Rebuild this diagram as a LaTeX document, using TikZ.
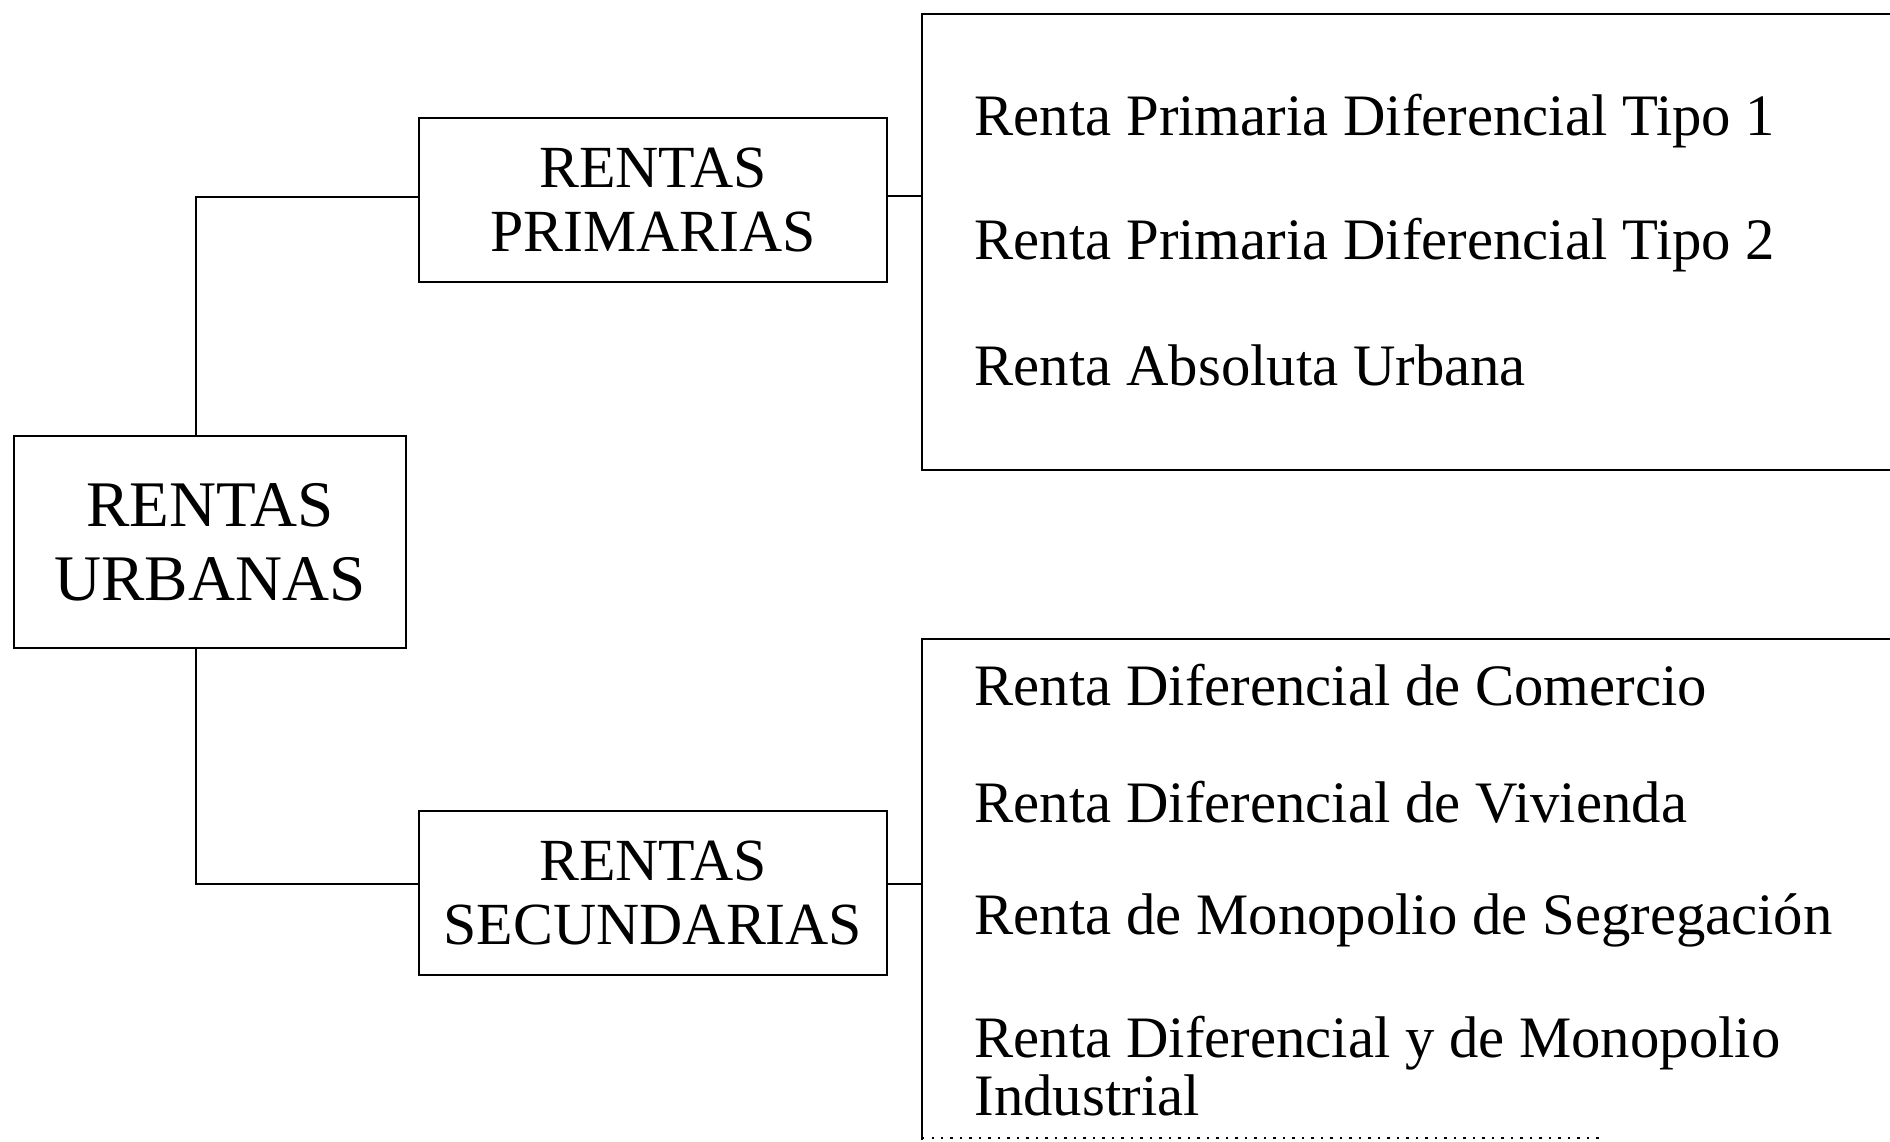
\documentclass[tikz,border=0pt]{standalone}
\usepackage{fontspec}
\setmainfont{Liberation Serif}
\usetikzlibrary{calc}

\tikzset{
	rentbox/.style={draw, line width=0.7pt, align=center, inner sep=0pt},
	rentitem/.style={anchor=west, inner sep=0pt, align=left, font=\fontsize{16.7}{16.5}\selectfont},
	rentline/.style={line width=0.7pt}
}

\begin{document}
\begin{tikzpicture}[x=0.01cm, y=-0.01cm]
		%%%%% START %%%%%
		\useasboundingbox (0, 0) rectangle (1890, 1142);
		
		\node[rentbox, minimum width=3.92cm, minimum height=2.12cm, font=\fontsize{18.5}{21}\selectfont] (urb) at (210, 542) {RENTAS\\URBANAS};
		\node[rentbox, minimum width=4.68cm, minimum height=1.64cm, font=\fontsize{17}{18}\selectfont] (prim) at (653, 200) {RENTAS\\PRIMARIAS};
		\node[rentbox, minimum width=4.68cm, minimum height=1.64cm, font=\fontsize{17}{18}\selectfont] (sec) at (653, 893) {RENTAS\\SECUNDARIAS};
		
		\coordinate (ttop) at (196, 197);
		\coordinate (tbot) at (196, 884);
		\coordinate (pin) at (922, 196);
		\coordinate (sin) at (922, 884);
		
		\draw[rentline] (urb.north -| ttop) -- (ttop) -- (prim.west |- ttop);
		\draw[rentline] (urb.south -| tbot) -- (tbot) -- (sec.west |- tbot);
		\draw[rentline] (prim.east |- pin) -- (pin);
		\draw[rentline] (sec.east |- sin) -- (sin);
		
		% open boxes, cut by the page edge
		\draw[rentline] (1890, 14) -- (922, 14) -- (922, 470) -- (1890, 470);
		\draw[rentline] (1890, 639) -- (922, 639) -- (922, 1140);
		\draw[rentline, dotted] (922, 1138) -- (1600, 1138);
		
		\node[rentitem] (p1) at (974, 121) {Renta Primaria Diferencial Tipo 1};
		\node[rentitem] (p2) at (974, 245) {Renta Primaria Diferencial Tipo 2};
		\node[rentitem] (p3) at (974, 365) {Renta Absoluta Urbana};
		
		\node[rentitem] (s1) at (974, 685) {Renta Diferencial de Comercio};
		\node[rentitem] (s2) at (974, 802) {Renta Diferencial de Vivienda};
		\node[rentitem] (s3) at (974, 920) {Renta de Monopolio de Segregación};
		\node[rentitem] (s4) at (974, 1066) {Renta Diferencial y de Monopolio\\Industrial};
		
		%%%%% END %%%%%
	\end{tikzpicture}
\end{document}
